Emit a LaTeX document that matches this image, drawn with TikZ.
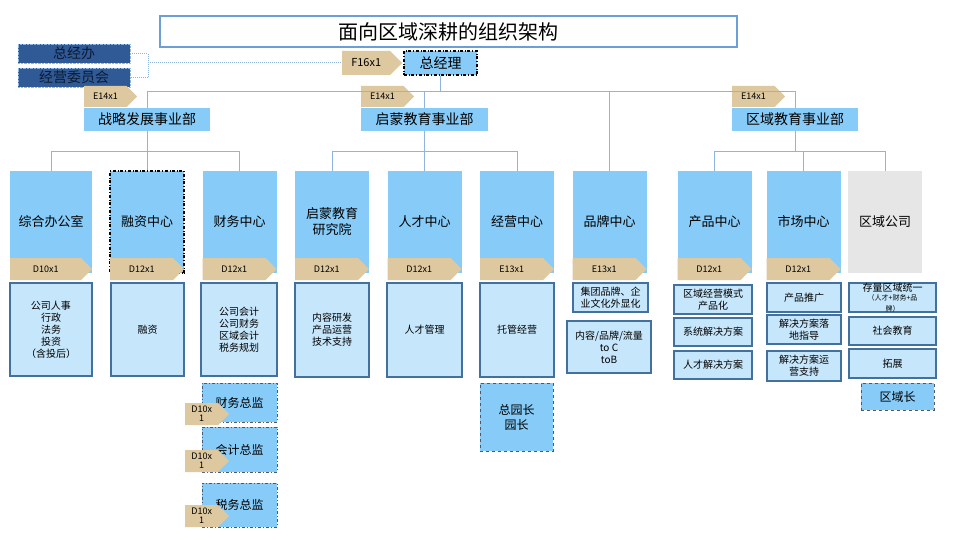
\documentclass[tikz,border=0pt]{standalone}
\usepackage{fontspec}
\setmainfont{Noto Sans CJK SC}
\usepackage{xcolor}
\usepackage{tikz}
\usetikzlibrary{positioning,shapes.symbols}
\definecolor{titleblue}{HTML}{6A9FD8}
\definecolor{skyfill}{HTML}{87CBF8}
\definecolor{gradetan}{HTML}{DEC8A0}
\definecolor{dutyfill}{HTML}{C6E6FB}
\definecolor{dutyline}{HTML}{41719C}
\definecolor{linkblue}{HTML}{8FB4E0}
\definecolor{boardblue}{HTML}{2F5A96}
\definecolor{boardtext}{HTML}{0E1A33}
\definecolor{leadgray}{HTML}{4A5A6E}
\definecolor{greyfill}{HTML}{E6E6E6}

\tikzset{
  headline/.style={draw=titleblue, line width=2.5pt, fill=white, inner sep=0pt,
    minimum width=577pt, minimum height=31pt, font=\fontsize{20}{24}\selectfont},
  boardbox/.style={fill=boardblue, draw=linkblue, densely dotted, text=boardtext, inner sep=0pt,
    minimum width=112pt, minimum height=19pt, font=\fontsize{14}{16}\selectfont},
  grade/.style={signal, signal to=east, signal from=nowhere, fill=gradetan, inner sep=0pt,
    anchor=west, minimum height=22pt, font=\fontsize{9}{10}\selectfont},
  division/.style={fill=skyfill, inner sep=0pt, minimum width=126pt, minimum height=23pt,
    font=\fontsize{14}{16}\selectfont},
  unit/.style={fill=skyfill, inner sep=0pt, minimum width=74pt, minimum height=102pt,
    align=center, font=\fontsize{13}{16}\selectfont},
  duty/.style={fill=dutyfill, draw=dutyline, line width=1.5pt, inner sep=0pt, align=center,
    font=\fontsize{10}{12}\selectfont},
  lead/.style={fill=skyfill, draw=leadgray, line width=1pt, inner sep=0pt, align=center,
    font=\fontsize{12}{15}\selectfont},
  link/.style={draw=linkblue, line width=0.9pt},
  dotlink/.style={draw=linkblue, line width=1pt, densely dotted}
}

\begin{document}
\begin{tikzpicture}[x=1pt, y=-1pt]
  \useasboundingbox (0,0) rectangle (960,540);

  % title and top of the tree
  \node[headline] (title) at (448.5,31.5) {面向区域深耕的组织架构};
  \node[boardbox] (board) at (74,53.5) {总经办};
  \node[boardbox] (committee) at (74,77.5) {经营委员会};
  \node[grade, minimum width=60pt, minimum height=24pt, font=\fontsize{11}{12}\selectfont] (gmgrade) at (342,63) {F16x1};
  \node[fill=skyfill, draw=black, dash dot, line width=1.5pt, inner sep=0pt, minimum width=73pt,
    minimum height=24pt, font=\fontsize{14}{16}\selectfont] (gm) at (440.5,63) {总经理};
  \coordinate (brk) at (148,63);
  \coordinate (topbar) at (0,91);
  \coordinate (midbar) at (0,151);

  % divisions
  \node[division] (strat) at (147,119.5) {战略发展事业部};
  \node[grade, minimum width=53pt, minimum height=21pt] (stratgrade) at (84,96.5) {E14x1};
  \node[division, minimum width=127pt] (qmdiv) at (424.5,119.5) {启蒙教育事业部};
  \node[grade, minimum width=53pt, minimum height=21pt] (qmgrade) at (361,96.5) {E14x1};
  \node[division] (regiondiv) at (795,119.5) {区域教育事业部};
  \node[grade, minimum width=53pt, minimum height=21pt] (regiongrade) at (732,96.5) {E14x1};

  % centres
  \node[unit, minimum width=82pt] (office) at (51,222) {综合办公室};
  \node[unit, draw=black, dash dot, line width=1.5pt] (funding) at (147,222) {融资中心};
  \node[unit] (finance) at (239.5,222) {财务中心};
  \node[unit] (institute) at (332,222) {启蒙教育\\研究院};
  \node[unit] (talent) at (424.5,222) {人才中心};
  \node[unit] (ops) at (517,222) {经营中心};
  \node[unit] (brand) at (609.5,222) {品牌中心};
  \node[unit] (product) at (714.5,222) {产品中心};
  \node[unit] (market) at (803.5,222) {市场中心};
  \node[unit, fill=greyfill] (regionco) at (885,222) {区域公司};

  \node[grade, minimum width=82pt] (officegrade) at (10,269) {D10x1};
  \node[grade, minimum width=74pt] (fundinggrade) at (110,269) {D12x1};
  \node[grade, minimum width=74pt] (financegrade) at (202.5,269) {D12x1};
  \node[grade, minimum width=74pt] (instgrade) at (295,269) {D12x1};
  \node[grade, minimum width=74pt] (talentgrade) at (387.5,269) {D12x1};
  \node[grade, minimum width=74pt] (opsgrade) at (480,269) {E13x1};
  \node[grade, minimum width=74pt] (brandgrade) at (572.5,269) {E13x1};
  \node[grade, minimum width=74pt] (productgrade) at (677.5,269) {D12x1};
  \node[grade, minimum width=74pt] (marketgrade) at (766.5,269) {D12x1};

  % duties
  \node[duty, minimum width=82pt, minimum height=93pt] (officeduty) at (51,329.5) {公司人事\\行政\\法务\\投资\\（含投后）};
  \node[duty, minimum width=73pt, minimum height=93pt] (fundingduty) at (147.5,329.5) {融资};
  \node[duty, minimum width=76pt, minimum height=93pt] (financeduty) at (239,329.5) {公司会计\\公司财务\\区域会计\\税务规划};
  \node[duty, minimum width=74pt, minimum height=94pt] (instduty) at (332,330) {内容研发\\产品运营\\技术支持};
  \node[duty, minimum width=75pt, minimum height=94pt] (talentduty) at (424.5,330) {人才管理};
  \node[duty, minimum width=74pt, minimum height=94pt] (opsduty) at (517,330) {托管经营};
  \node[duty, minimum width=75pt, minimum height=29pt] (brandduty1) at (610.5,297.5) {集团品牌、企\\业文化外显化};
  \node[duty, minimum width=84pt, minimum height=52pt] (brandduty2) at (609,347) {内容/品牌/流量\\to C\\toB};
  \node[duty, minimum width=78pt, minimum height=29pt] (productduty1) at (713,299.5) {区域经营模式\\产品化};
  \node[duty, minimum width=78pt, minimum height=28pt] (productduty2) at (713,332) {系统解决方案};
  \node[duty, minimum width=78pt, minimum height=28pt] (productduty3) at (713,365) {人才解决方案};
  \node[duty, minimum width=74pt, minimum height=29pt] (marketduty1) at (804,297.5) {产品推广};
  \node[duty, minimum width=74pt, minimum height=29pt] (marketduty2) at (804,329.5) {解决方案落\\地指导};
  \node[duty, minimum width=74pt, minimum height=30pt] (marketduty3) at (804,366) {解决方案运\\营支持};
  \node[duty, minimum width=87pt, minimum height=29pt] (regionduty1) at (892.5,297.5)
    {存量区域统一\\[-3pt]\fontsize{7}{8}\selectfont（人才+财务+品\\[-1pt]\fontsize{7}{8}\selectfont 牌）};
  \node[duty, minimum width=87pt, minimum height=28pt] (regionduty2) at (892.5,331) {社会教育};
  \node[duty, minimum width=87pt, minimum height=29pt] (regionduty3) at (892.5,363.5) {拓展};

  % leads
  \node[lead, dash dot, minimum width=75pt, minimum height=39pt] (finlead1) at (239.5,402.5) {财务总监};
  \node[lead, dash dot, minimum width=75pt, minimum height=45pt] (finlead2) at (239.5,449.5) {会计总监};
  \node[lead, dash dot, minimum width=75pt, minimum height=44pt] (finlead3) at (239.5,505) {税务总监};
  \node[grade, minimum width=44pt, align=center, font=\fontsize{9}{9}\selectfont] (finleadgrade1) at (185,414) {D10x\\1};
  \node[grade, minimum width=44pt, align=center, font=\fontsize{9}{9}\selectfont] (finleadgrade2) at (185,461) {D10x\\1};
  \node[grade, minimum width=44pt, align=center, font=\fontsize{9}{9}\selectfont] (finleadgrade3) at (185,516) {D10x\\1};
  \node[lead, dashed, minimum width=73pt, minimum height=68pt] (opslead) at (516.5,417) {总园长\\园长};
  \node[lead, dashed, minimum width=73pt, minimum height=27pt] (regionlead) at (897.5,396.5) {区域长};

  % connectors
  \draw[dotlink] (board.east) -| (brk) |- (committee.east);
  \draw[dotlink] (brk) -- (gmgrade.west);
  \draw[link] (gm.south) -- (gm.south |- topbar);
  \draw[link] (strat.north) -- (strat.north |- topbar) -- (regiondiv.north |- topbar) -- (regiondiv.north);
  \draw[link] (qmdiv.north) -- (qmdiv.north |- topbar);
  \draw[link] (brand.north) -- (brand.north |- topbar);
  \draw[link] (strat.south) -- (funding.north);
  \draw[link] (office.north) |- (finance.north |- midbar) -- (finance.north);
  \draw[link] (qmdiv.south) -- (talent.north);
  \draw[link] (institute.north) |- (ops.north |- midbar) -- (ops.north);
  \draw[link] (regiondiv.south) -- (regiondiv.south |- midbar);
  \draw[link] (product.north) |- (regionco.north |- midbar) -- (regionco.north);
  \draw[link] (market.north) -- (market.north |- midbar);
\end{tikzpicture}
\end{document}
